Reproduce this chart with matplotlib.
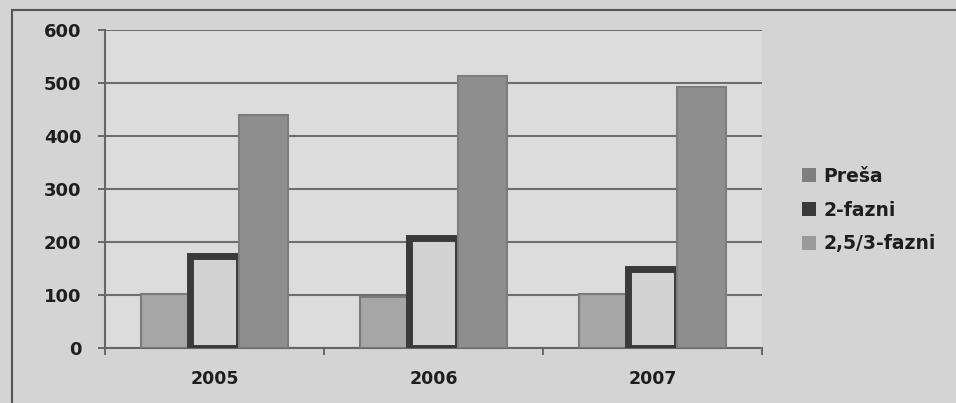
import matplotlib
matplotlib.use("Agg")
import matplotlib.pyplot as plt
import numpy as np
from matplotlib.lines import Line2D

categories = ["2005", "2006", "2007"]
series_names = ["Preša", "2-fazni", "2,5/3-fazni"]
presa = [101, 97, 102]
dvofazni = [174, 207, 149]
trofazni = [440, 513, 492]
yticks = [0, 100, 200, 300, 400, 500, 600]

fig = plt.figure(figsize=(9.56, 4.03), dpi=100)
fig.patch.set_facecolor("#d4d4d4")
ax = fig.add_axes([105/956, 55/403, 657/956, 318/403])
ax.set_facecolor("#dcdcdc")

x = np.arange(len(categories))
w = 0.222
off = 0.224
ax.bar(x - off, presa, w, color="#a6a6a6", edgecolor="#7a7a7a", linewidth=1.5, label=series_names[0], zorder=3)
ax.bar(x, dvofazni, w, color="#d2d2d2", edgecolor="#3a3a3a", linewidth=5, label=series_names[1], zorder=3)
ax.bar(x + off, trofazni, w, color="#8e8e8e", edgecolor="#7d7d7d", linewidth=1.5, label=series_names[2], zorder=3)

ax.set_xlim(-0.5, 2.5)
ax.set_ylim(0, 600)
ax.set_yticks(yticks)
ax.set_yticklabels([str(v) for v in yticks])
ax.set_xticks(x)
ax.set_xticklabels(categories)
ax.set_xticks([-0.5, 0.5, 1.5, 2.5], minor=True)
ax.tick_params(axis="x", which="major", length=0, pad=16, labelsize=12.5, colors="#1e1e1e")
ax.tick_params(axis="x", which="minor", length=5, color="#555555", width=1.2)
ax.tick_params(axis="y", length=5, color="#555555", width=1.2, pad=12, labelsize=13, colors="#1e1e1e")
ax.yaxis.grid(True, color="#6e6e6e", linewidth=1.5, zorder=0)
ax.set_axisbelow(True)
for s in ["top", "right"]:
    ax.spines[s].set_visible(False)
ax.spines["left"].set_color("#666666")
ax.spines["left"].set_linewidth(1.5)
ax.spines["bottom"].set_color("#666666")
ax.spines["bottom"].set_linewidth(1.5)
for lab in ax.get_yticklabels() + ax.get_xticklabels():
    lab.set_fontweight("semibold")

handles = [
    plt.Rectangle((0, 0), 1, 1, facecolor="#7e7e7e", edgecolor="none"),
    plt.Rectangle((0, 0), 1, 1, facecolor="#3a3a3a", edgecolor="none"),
    plt.Rectangle((0, 0), 1, 1, facecolor="#9a9a9a", edgecolor="none"),
]
leg = fig.legend(handles, series_names, loc="center left", bbox_to_anchor=(785/956, 1 - 210/403),
                 frameon=False, fontsize=13.5, handlelength=0.75, handleheight=0.75,
                 handletextpad=0.4, labelspacing=0.8)
for t in leg.get_texts():
    t.set_color("#1e1e1e")
    t.set_fontweight("semibold")

# outer chart frame
fig.add_artist(Line2D([12/956, 1], [1 - 10/403, 1 - 10/403], transform=fig.transFigure, color="#555555", linewidth=1.5))
fig.add_artist(Line2D([12/956, 12/956], [0, 1 - 10/403], transform=fig.transFigure, color="#555555", linewidth=1.5))

fig.savefig("out.png", dpi=100, facecolor=fig.get_facecolor())
